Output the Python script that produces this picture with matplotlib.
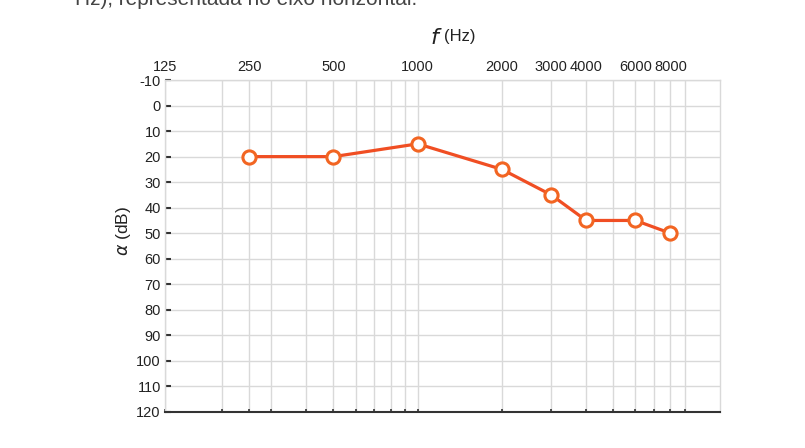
import matplotlib.pyplot as plt
from matplotlib.ticker import FixedLocator, NullFormatter, FixedFormatter

plt.rcParams['font.family'] = ['Liberation Sans', 'DejaVu Sans']
plt.rcParams['mathtext.fontset'] = 'dejavusans'

# dados do audiograma
freqs = [250, 500, 1000, 2000, 3000, 4000, 6000, 8000]
levels = [20, 20, 15, 25, 35, 45, 45, 50]
top_ticks = [125, 250, 500, 1000, 2000, 3000, 4000, 6000, 8000]
grid_freqs = [200, 300, 400, 600, 700, 800, 900, 5000, 7000, 9000]
y_ticks = list(range(-10, 121, 10))

fig = plt.figure(figsize=(8.05, 4.48), dpi=100)
ax = fig.add_axes([0.205, 0.0804, 0.689, 0.741])

ax.plot(freqs, levels, color='#f04e23', lw=2.3, marker='o', markersize=9.5,
        markerfacecolor='white', markeredgecolor='#f26522', markeredgewidth=2.2,
        zorder=5, clip_on=False)

ax.set_xscale('log')
ax.set_xlim(125, 12000)
ax.set_ylim(120, -10)

ax.xaxis.set_major_locator(FixedLocator(top_ticks))
ax.xaxis.set_major_formatter(FixedFormatter([str(t) for t in top_ticks]))
ax.xaxis.set_minor_locator(FixedLocator(grid_freqs))
ax.xaxis.set_minor_formatter(NullFormatter())
ax.tick_params(axis='x', which='both', bottom=True, top=False, labelbottom=False,
               labeltop=True, direction='in', length=2.5, width=1.2, color='#333333',
               labelsize=10.5, labelcolor='#222222', pad=4)

ax.set_yticks(y_ticks)
ax.set_yticklabels([str(v) for v in y_ticks])
ax.tick_params(axis='y', which='both', direction='in', length=4, width=1.5,
               color='#333333', labelsize=10.5, labelcolor='#222222', pad=3)

ax.grid(True, which='both', color='#d9d9d9', lw=1)
ax.set_axisbelow(True)
for side in ['left', 'top', 'right']:
    ax.spines[side].set_color('#d9d9d9')
    ax.spines[side].set_linewidth(1)
ax.spines['bottom'].set_color('#333333')
ax.spines['bottom'].set_linewidth(1.5)

# títulos dos eixos
fig.text(0.545, 1 - 38 / 448, 'f', fontsize=16, style='italic', ha='right',
         va='center', color='#222222', family='DejaVu Sans')
fig.text(0.551, 1 - 37 / 448, '(Hz)', fontsize=12, ha='left', va='center',
         color='#222222')
fig.text(0.153, 0.485, r'$\alpha$ (dB)', fontsize=12.5, rotation=90,
         ha='center', va='center', color='#222222')

# texto cortado no topo
fig.text(0.093, 1 - 5 / 448, 'Hz), representada no eixo horizontal.',
         fontsize=15, ha='left', va='baseline', color='#444444')

fig.savefig('out.png', dpi=100)
